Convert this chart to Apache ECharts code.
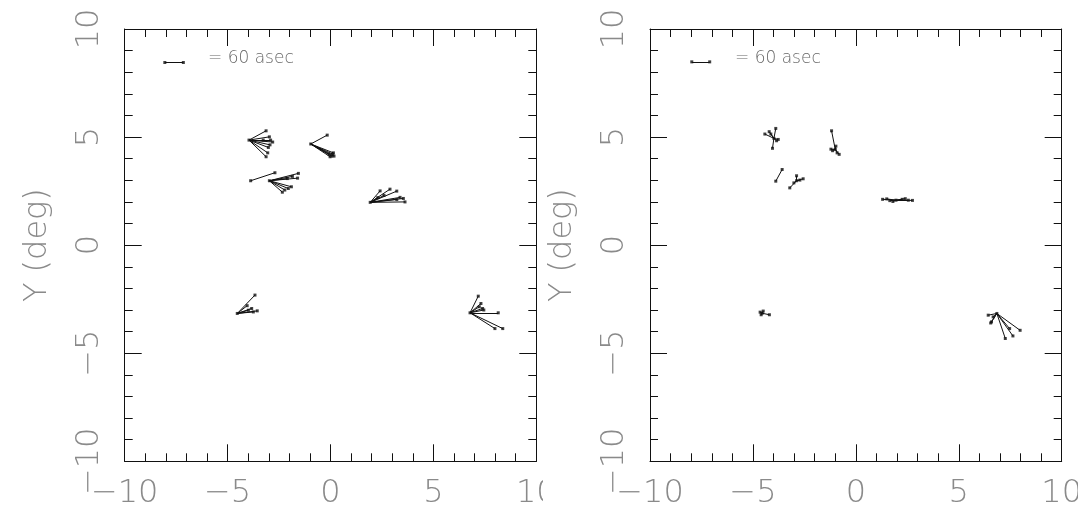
<!DOCTYPE html>
<html>
<head>
<meta charset="utf-8">
<script src="https://cdn.jsdelivr.net/npm/echarts@6/dist/echarts.min.js"></script>
<style>
html,body{margin:0;padding:0;background:#fff;}
#wrapL{position:absolute;left:0;top:0;width:543px;height:509px;overflow:hidden;}
#wrapR{position:absolute;left:543px;top:0;width:535px;height:509px;overflow:hidden;background:#fff;}
#chartL,#chartR{width:100%;height:100%;}
</style>
</head>
<body>
<div id="wrapL"><div id="chartL"></div></div>
<div id="wrapR"><div id="chartR"></div></div>
<script>
// ---- axis ticks ----
const xTicks = [-10, -5, 0, 5, 10];
const yTicks = [-10, -5, 0, 5, 10];
const yAxisName = 'Y (deg)';
const scaleText = '= 60 asec';

// ---- left panel: vector clusters (origin + end points, degrees) ----
const L_A_origin = [-3.96, 4.86];
const L_A_ends = [[-3.13,5.29],[-2.97,5.01],[-2.91,4.86],[-2.81,4.77],[-2.94,4.64],[-3.02,4.52],[-3.05,4.27],[-3.13,4.09],[-3.27,4.86]];
const L_B_origin = [-0.96, 4.68];
const L_B_ends = [[-0.16,5.09],[-0.02,4.09],[0.06,4.12],[0.17,4.12],[0.11,4.21],[-0.07,4.20],[0.14,4.27]];
const L_C1_origin = [-3.88, 2.98];
const L_C1_ends = [[-2.70,3.35]];
const L_C_origin = [-2.97, 2.98];
const L_C_ends = [[-1.56,3.32],[-1.60,3.10],[-1.90,2.70],[-2.05,2.62],[-2.22,2.55],[-2.34,2.45],[-1.85,3.18],[-2.10,3.08]];
const L_D_origin = [1.93, 1.98];
const L_D_ends = [[2.41,2.51],[2.89,2.59],[3.22,2.50],[3.38,2.21],[3.54,2.16],[3.62,2.00],[3.22,2.11],[2.60,2.30],[2.30,2.20]];
const L_E_origin = [-4.53, -3.16];
const L_E_ends = [[-3.67,-2.31],[-3.83,-2.93],[-3.56,-3.04],[-3.75,-3.09],[-3.99,-3.01],[-4.05,-2.80]];
const L_F_origin = [6.78, -3.13];
const L_F_ends = [[7.18,-2.36],[7.31,-2.70],[7.39,-2.93],[7.23,-2.85],[8.15,-3.13],[7.99,-3.86],[8.37,-3.86],[7.45,-3.00]];
const L_scaleBar = [[-8.05,8.45],[-7.15,8.45]];

// ---- right panel ----
const R_A_origin = [-3.98, 4.94];
const R_A_ends = [[-4.42,5.14],[-4.21,5.25],[-3.89,5.40],[-3.77,4.89],[-4.05,4.48],[-4.13,5.14],[-3.85,4.83]];
const R_B_origin = [-1.00, 4.43];
const R_B_ends = [[-1.18,5.29],[-1.21,4.44],[-1.13,4.37],[-0.81,4.20],[-0.91,4.27],[-0.97,4.58]];
const R_C1_origin = [-3.89, 2.96];
const R_C1_ends = [[-3.58,3.50]];
const R_C_origin = [-2.88, 2.98];
const R_C_ends = [[-3.21,2.65],[-2.88,3.21],[-2.56,3.07],[-3.01,2.88],[-2.72,3.01]];
const R_D_origin = [1.95, 2.08];
const R_D_ends = [[1.30,2.12],[1.50,2.14],[1.65,2.06],[1.80,2.02],[2.25,2.12],[2.40,2.15],[2.55,2.08],[2.75,2.07]];
const R_E_origin = [-4.55, -3.15];
const R_E_ends = [[-4.20,-3.22],[-4.65,-3.10],[-4.50,-3.05],[-4.60,-3.22]];
const R_F_origin = [6.85, -3.16];
const R_F_ends = [[6.43,-3.24],[6.59,-3.55],[7.26,-4.32],[7.63,-4.20],[7.47,-3.86],[7.98,-3.94],[6.67,-3.32],[6.55,-3.60]];
const R_scaleBar = [[-7.97,8.48],[-7.10,8.48]];

const FONT = 'DejaVu Sans';
const GRAY = '#8a8a8a';
const INK = '#111';

function fmt(v){ return String(v).replace('-', '\u2212'); }

function buildOption(clusters, scaleBar, grid, textLeft){
  const segs = [];
  const pts = [];
  clusters.forEach(([o, ends]) => {
    pts.push(o);
    ends.forEach(e => { segs.push({coords:[o, e]}); pts.push(e); });
  });
  segs.push({coords:[scaleBar[0], scaleBar[1]]});
  pts.push(scaleBar[0], scaleBar[1]);

  const baseX = {
    type:'value', min:-10, max:10, interval:5,
    axisLine:{show:true, onZero:false, lineStyle:{color:INK, width:1}},
    axisTick:{show:true, inside:true, length:17, lineStyle:{color:INK, width:1}},
    minorTick:{show:true, splitNumber:5, length:8, lineStyle:{color:INK, width:1}},
    splitLine:{show:false}, minorSplitLine:{show:false}
  };
  return {
    animation:false,
    backgroundColor:'#fff',
    grid: Object.assign({containLabel:false, outerBoundsMode:'none'}, grid),
    xAxis:[
      Object.assign({}, baseX, {position:'bottom',
        axisLabel:{show:true, margin:32, color:GRAY, fontFamily:FONT, fontWeight:200, fontSize:32,
          verticalAlign:'middle', align:'center', formatter: v => fmt(v)}}),
      Object.assign({}, baseX, {position:'top', axisLabel:{show:false}})
    ],
    yAxis:[
      Object.assign({}, baseX, {position:'left',
        name: yAxisName, nameLocation:'middle', nameGap:87, nameRotate:90,
        nameTextStyle:{color:GRAY, fontFamily:FONT, fontWeight:200, fontSize:32, align:'center', verticalAlign:'middle'},
        axisLabel:{show:true, rotate:90, margin:35, color:GRAY, fontFamily:FONT, fontWeight:200, fontSize:32,
          align:'center', verticalAlign:'middle', formatter: v => fmt(v)}}),
      Object.assign({}, baseX, {position:'right', axisLabel:{show:false}})
    ],
    graphic:[{
      type:'text', left:textLeft, top:50,
      style:{text:scaleText, fill:'#666', font:'200 17px "DejaVu Sans"'}
    }],
    series:[
      {type:'lines', coordinateSystem:'cartesian2d', xAxisIndex:0, yAxisIndex:0,
        silent:true, lineStyle:{color:INK, width:1, opacity:1, curveness:0}, data:segs},
      {type:'scatter', xAxisIndex:0, yAxisIndex:0, symbol:'rect', symbolSize:3, silent:true,
        itemStyle:{color:INK}, data:pts}
    ]
  };
}

const leftClusters = [[L_A_origin,L_A_ends],[L_B_origin,L_B_ends],[L_C1_origin,L_C1_ends],[L_C_origin,L_C_ends],
  [L_D_origin,L_D_ends],[L_E_origin,L_E_ends],[L_F_origin,L_F_ends]];
const rightClusters = [[R_A_origin,R_A_ends],[R_B_origin,R_B_ends],[R_C1_origin,R_C1_ends],[R_C_origin,R_C_ends],
  [R_D_origin,R_D_ends],[R_E_origin,R_E_ends],[R_F_origin,R_F_ends]];

const cL = echarts.init(document.getElementById('chartL'));
cL.setOption(buildOption(leftClusters, L_scaleBar, {left:124.7, right:6.7, top:29, bottom:47.7}, 208));
const cR = echarts.init(document.getElementById('chartR'));
cR.setOption(buildOption(rightClusters, R_scaleBar, {left:107, right:16.3, top:29, bottom:47.7}, 192));
</script>
</body>
</html>
